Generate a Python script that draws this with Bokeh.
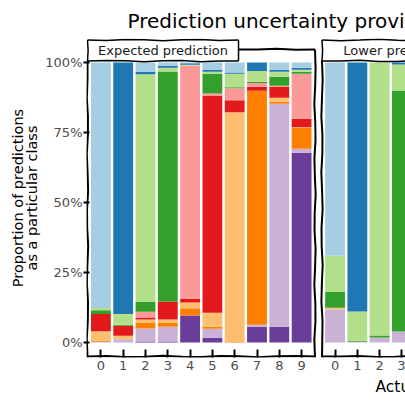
import math
from bokeh.plotting import figure
from bokeh.models import Range1d, FixedTicker, NumeralTickFormatter, Title, ColumnDataSource
from bokeh.embed import file_html
from bokeh.resources import INLINE
from bokeh.core.properties import value

# ---------------- data ----------------
actual_classes = ["0", "1", "2", "3", "4", "5", "6", "7", "8", "9"]
lower_classes = ["0", "1", "2", "3"]          # visible part of the second panel
predicted_classes = ["0", "1", "2", "3", "4", "5", "6", "7", "8", "9"]
palette = ["#a6cee3", "#1f78b4", "#b2df8a", "#33a02c", "#fb9a99",
           "#e31a1c", "#fdbf6f", "#ff7f00", "#cab2d6", "#6a3d9a"]

# "Expected prediction" panel: % of predictions as class k, per actual class 0..9
exp_pred0 = [87.7, 0.0, 3.3, 1.2, 0.3, 2.6, 3.6, 0.0, 2.6, 1.9]
exp_pred1 = [0.0, 89.8, 0.9, 0.7, 0.5, 0.7, 0.4, 3.0, 0.7, 0.7]
exp_pred2 = [0.8, 3.9, 81.3, 1.3, 0.3, 0.7, 4.8, 3.9, 1.8, 0.7]
exp_pred3 = [1.3, 0.3, 3.5, 82.2, 0.0, 7.1, 0.4, 0.4, 3.2, 0.7]
exp_pred4 = [0.0, 0.0, 2.1, 0.0, 83.4, 0.9, 4.3, 1.4, 0.4, 16.1]
exp_pred5 = [6.2, 3.6, 0.7, 6.4, 1.2, 77.4, 4.3, 1.4, 3.9, 3.0]
exp_pred6 = [3.4, 1.2, 1.1, 1.1, 2.1, 5.0, 81.8, 0.0, 1.4, 0.2]
exp_pred7 = [0.3, 0.0, 2.1, 1.5, 2.6, 0.7, 0.4, 83.6, 0.7, 7.5]
exp_pred8 = [0.3, 1.2, 4.6, 5.2, 0.0, 3.2, 0.0, 0.7, 79.7, 1.4]
exp_pred9 = [0.0, 0.0, 0.4, 0.4, 9.6, 1.7, 0.0, 5.6, 5.6, 67.8]

# "Lower prediction" panel (actual classes 0..3 visible)
low_pred0 = [69.0, 0.0, 0.0, 0.0]
low_pred1 = [0.0, 88.9, 0.0, 0.7]
low_pred2 = [13.0, 10.5, 97.5, 9.3]
low_pred3 = [5.6, 0.3, 0.7, 86.1]
low_pred4 = [0.0, 0.0, 0.0, 0.0]
low_pred5 = [0.0, 0.0, 0.0, 0.0]
low_pred6 = [0.6, 0.0, 0.0, 0.0]
low_pred7 = [0.0, 0.0, 0.0, 0.0]
low_pred8 = [11.8, 0.3, 1.8, 3.9]
low_pred9 = [0.0, 0.0, 0.0, 0.0]

panel_labels = ["Expected prediction", "Lower prediction"]
title_text = "Prediction uncertainty provided"
x_title = "Actual class"
y_title = "Proportion of predictions\nas a particular class"
y_ticks = [0, 0.25, 0.5, 0.75, 1.0]

# ---------------- layout helpers (canvas pixels -> data) ----------------
W, H = 405, 405
UNIT = 11.15       # px per half category step
X_ORIGIN = 100.4   # x of first bar centre
Y_ZERO = 342.0     # y of 0%
Y_PX = 280.0       # px per 100%
FRAME_L, FRAME_T, FRAME_B = 86, 38, 357
def xd(px):
    return (px - X_ORIGIN) / UNIT
def yd(py):
    return (Y_ZERO - py) / Y_PX

PANEL2 = 21
x_exp = [2 * i for i in range(len(actual_classes))]
x_low = [PANEL2 + 2 * i for i in range(len(lower_classes))]

p = figure(width=W, height=H, output_backend="svg", toolbar_location=None,
           x_range=Range1d(xd(FRAME_L), xd(W)), y_range=Range1d(yd(FRAME_B), yd(FRAME_T)),
           min_border_left=FRAME_L, min_border_right=0, min_border_top=FRAME_T,
           min_border_bottom=H - FRAME_B)
p.grid.visible = False
p.outline_line_color = None
p.background_fill_color = "white"
p.border_fill_color = "white"

# ---------------- bars ----------------
stack_keys = ["p" + k for k in reversed(predicted_classes)]
stack_colors = [palette[int(k[1:])] for k in stack_keys]

exp_cols = [exp_pred0, exp_pred1, exp_pred2, exp_pred3, exp_pred4,
            exp_pred5, exp_pred6, exp_pred7, exp_pred8, exp_pred9]
low_cols = [low_pred0, low_pred1, low_pred2, low_pred3, low_pred4,
            low_pred5, low_pred6, low_pred7, low_pred8, low_pred9]

d_exp = {"x": x_exp}
d_low = {"x": x_low}
for k, col in zip(predicted_classes, exp_cols):
    d_exp["p" + k] = [v / 100 for v in col]
for k, col in zip(predicted_classes, low_cols):
    d_low["p" + k] = [v / 100 for v in col]

p.vbar_stack(stack_keys, x="x", width=1.78, fill_color=stack_colors, line_color=None,
             source=ColumnDataSource(d_exp))
p.vbar_stack(stack_keys, x="x", width=1.78, fill_color=stack_colors, line_color=None,
             source=ColumnDataSource(d_low))

# ---------------- sketchy panel borders ----------------
def wobbly(x0, y0, x1, y1, phase=0.0, amp=0.7):
    L = math.hypot(x1 - x0, y1 - y0)
    n = max(2, int(L / 18))
    nx, ny = -(y1 - y0) / L, (x1 - x0) / L
    xs, ys = [], []
    for i in range(n + 1):
        t = i / n
        o = 0.0 if i in (0, n) else amp * math.sin(i * 1.9 + phase)
        xs.append(x0 + (x1 - x0) * t + nx * o)
        ys.append(y0 + (y1 - y0) * t + ny * o)
    return xs, ys

def seg(x0, y0, x1, y1, phase=0.0, w=2.0):
    xs, ys = wobbly(x0, y0, x1, y1, phase)
    p.line([xd(v) for v in xs], [yd(v) for v in ys], line_color="black", line_width=w)

def strip(x0, x1, label, phase):
    p.quad(left=[xd(x0)], right=[xd(x1)], top=[yd(39.5)], bottom=[yd(60.5)],
           fill_color="white", line_color=None)
    seg(x0, 39.5, x1, 39.5, phase, 1.5)
    seg(x1, 39.5, x1, 60.5, phase + 1, 1.5)
    seg(x0, 60.5, x1, 60.5, phase + 2, 1.5)
    seg(x0, 39.5, x0, 60.5, phase + 3, 1.5)
    p.text(x=[xd((x0 + x1) / 2)], y=[yd(50)], text=[label], text_align="center",
           text_baseline="middle", text_font=value("DejaVu Sans"),
           text_font_size="13px", text_color="#1a1a1a")

# panel 1
strip(87, 238, panel_labels[0], 0.3)
seg(238, 49, 314.5, 49, 1.1)
seg(314.5, 49, 314.5, 357, 2.2)
seg(87, 356, 314.5, 356, 3.3)
seg(87, 60.5, 87, 357, 4.4)
# panel 2
strip(321.5, 472.5, panel_labels[1], 5.5)
seg(472.5, 49, 560, 49, 6.6)
seg(321.5, 356, 560, 356, 7.7)
seg(321.5, 60.5, 321.5, 357, 8.8)

# ---------------- axes ----------------
yax = p.yaxis[0]
yax.ticker = FixedTicker(ticks=y_ticks)
yax.formatter = NumeralTickFormatter(format="0%")
yax.axis_line_color = None
yax.major_tick_out = 3
yax.major_tick_in = 3
yax.major_tick_line_width = 2
yax.major_tick_line_color = "black"
yax.minor_tick_line_color = None
yax.major_label_text_font = "DejaVu Sans"
yax.major_label_text_font_size = "13px"
yax.major_label_text_color = "#4d4d4d"
yax.major_label_standoff = 1
yax.axis_label = y_title
yax.axis_label_text_font = "DejaVu Sans"
yax.axis_label_text_font_size = "14.5px"
yax.axis_label_text_font_style = "normal"
yax.axis_label_text_color = "black"
yax.axis_label_text_line_height = 0.9
yax.axis_label_standoff = 2

xax = p.xaxis[0]
xax.ticker = FixedTicker(ticks=x_exp + x_low)
overrides = {}
for xv, lab in zip(x_exp, actual_classes):
    overrides[xv] = lab
for xv, lab in zip(x_low, lower_classes):
    overrides[xv] = lab
xax.major_label_overrides = overrides
xax.axis_line_color = None
xax.major_tick_in = 8
xax.major_tick_out = 0
xax.major_tick_line_width = 2
xax.major_tick_line_color = "black"
xax.minor_tick_line_color = None
xax.major_label_text_font = "DejaVu Sans"
xax.major_label_text_font_size = "13px"
xax.major_label_text_color = "#4d4d4d"
xax.major_label_standoff = 3

# x-axis title sits at the right (only its start is visible)
xt = Title(text=x_title, align="left", offset=375 - FRAME_L, text_font="DejaVu Sans",
           text_font_size="15.5px", text_font_style="normal", text_color="black",
           standoff=7)
p.add_layout(xt, "below")

p.title.text = title_text
p.title.align = "left"
p.title.offset = 41
p.title.text_font = "DejaVu Sans"
p.title.text_font_size = "20px"
p.title.text_font_style = "normal"
p.title.text_color = "black"
p.title.standoff = 12

open("out.html", "w").write(file_html(p, INLINE))
